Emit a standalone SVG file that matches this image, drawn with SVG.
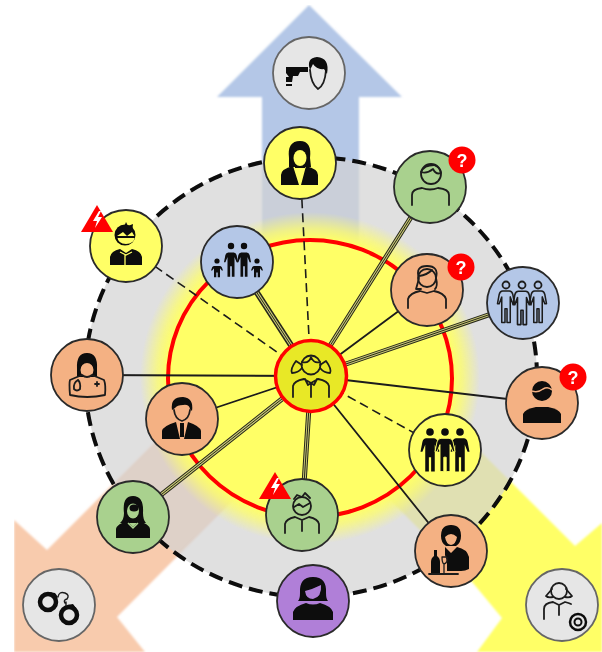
<svg xmlns="http://www.w3.org/2000/svg" xmlns:xlink="http://www.w3.org/1999/xlink" width="602" height="652" viewBox="0 0 602 652">
<style>
.n{stroke:#2a2a2a;stroke-width:1.8}
.y{fill:#ffff66}.o{fill:#f4b183}.g{fill:#a9d18e}.b{fill:#b4c7e7}.p{fill:#b07fd8}.e{fill:#e6e6e6;stroke:#666}
.k{fill:#0a0a0a;stroke:none}
.l{fill:none;stroke:#1c1c1c;stroke-width:1.8;stroke-linecap:round;stroke-linejoin:round}
.s{stroke:#1c1c1c;stroke-width:1.8;fill:none}
.d{stroke:#1c1c1c;stroke-width:1.6;fill:none;stroke-dasharray:9 5}
.t1{stroke:#26261a;stroke-width:5;fill:none}
.t2{stroke:#c9c976;stroke-width:3;fill:none}
.t3{stroke:#26261a;stroke-width:1;fill:none}
.q{font-family:"Liberation Sans",Arial,sans-serif;font-weight:bold;font-size:18px;fill:#fff;text-anchor:middle}
</style>
<defs>
<radialGradient id="glow"><stop offset="0.84" stop-color="#ffff66"/><stop offset="0.9" stop-color="#ffff66" stop-opacity="0.7"/><stop offset="1" stop-color="#ffff66" stop-opacity="0"/></radialGradient>
<filter id="soft" x="0" y="0" width="1" height="1"><feGaussianBlur stdDeviation="0.45"/></filter>
<filter id="arrowsoft" x="-5%" y="-5%" width="110%" height="110%"><feGaussianBlur stdDeviation="1"/></filter>
<path id="fig" d="M-4,-13H4Q7,-13 8,-9L10,2H8L5,-6V24H1.200V8H-1.200V24H-5V-6L-8,2H-10L-8,-9Q-7,-13 -4,-13Z"/>
<g id="badge"><circle r="13.500" fill="#ff0000"/><text class="q" y="6.500">?</text></g>
<g id="warn"><polygon points="0,-14 16,13 -16,13" fill="#ff0000"/><polygon points="2,-8 -4,2 0,2 -2,9 5,-2 1,-2 4,-8" fill="#fff"/></g>
</defs>
<g filter="url(#soft)">
<g id="arrows" filter="url(#arrowsoft)">
<polygon fill="#b4c7e7" points="309,5 402,97 359,97 359,300 262,300 262,97 217,97"/>
<polygon fill="#f8cbad" points="14,520 47,550 230,367 300,433 117,617 145,652 14,652"/>
<polygon fill="#ffff66" points="602,523 575,546 400,371 340,450 473,583 502,618 477,652 602,652"/>
</g>
<ellipse cx="311" cy="377" rx="226" ry="220" fill="#d3d3d3" fill-opacity="0.7"/>
<ellipse cx="310" cy="378" rx="170" ry="166" fill="url(#glow)"/>
<ellipse cx="311" cy="377" rx="226" ry="220" fill="none" stroke="#0a0a0a" stroke-width="4" stroke-dasharray="14 7"/>
<ellipse cx="310" cy="378.500" rx="142" ry="138.500" fill="#ffff66" stroke="#ff0000" stroke-width="4"/>
<g id="connectors">
<path class="d" d="M311,376L300,163"/>
<path class="d" d="M311,376L126,246"/>
<path class="d" d="M311,376L445,450"/>
<path class="s" d="M311,376L427,290M311,376L542,403M311,376L451,551M311,376L182,419M311,376L87,375"/>
<path class="t1" d="M311,376L430,187M311,376L523,303M311,376L302,515M311,376L133,517"/>
<path class="t2" d="M311,376L430,187M311,376L523,303M311,376L302,515M311,376L133,517"/>
<path class="t3" d="M311,376L430,187M311,376L523,303M311,376L302,515M311,376L133,517"/>
<path class="t1" style="stroke-width:6" d="M311,376L237,262"/>
<path class="t2" d="M311,376L237,262"/>
<path class="t3" d="M311,376L237,262"/>
</g>
<g id="n-gun" transform="translate(309,73)"><circle class="n e" r="36"/>
<path class="k" d="M-23,-6H-1V-1H-9L-11,3H-16L-17,9H-23V4H-20L-23,0ZM-23,11H-17V13H-23Z"/>
<path class="l" d="M1,-3Q2,11 9,16Q16,12 17,-3"/>
<path class="k" d="M1,-3Q-3,-15 8,-16Q21,-15 18,1L15,-4Q8,-3 4,-9Z"/></g>
<g id="n-handcuffs" transform="translate(59,605)"><circle class="n e" r="36"/>
<circle cx="-11" cy="-3" r="8" fill="none" stroke="#0a0a0a" stroke-width="4.500"/><circle cx="10" cy="10" r="8" fill="none" stroke="#0a0a0a" stroke-width="4.500"/>
<path class="k" d="M-10,-13L-4,-12L-1,-8L-4,-6ZM8,0L14,-1L17,3L12,4Z"/>
<path class="l" d="M-1,-8Q0,-14 6,-12Q11,-10 8,-6Q4,-5 6,-2M7,-3V1" style="stroke-width:1.400"/></g>
<g id="n-target" transform="translate(562,605)"><circle class="n e" r="36"/>
<circle cx="-3" cy="-14" r="8" class="l"/><path class="l" d="M-10,-16L-16,-9Q-14,-7 -9,-8M4,-16L10,-9Q8,-7 3,-8M-18,14V4Q-18,-2 -9,-3L-3,0L3,-3Q7,-2 9,-1M-3,0V10"/>
<circle cx="16" cy="17" r="8" fill="none" stroke="#111" stroke-width="2.500"/><circle cx="16" cy="17" r="3.500" fill="none" stroke="#111" stroke-width="2"/></g>
<g id="n-top" transform="translate(300,163)"><circle class="n y" r="36"/>
<path class="k" d="M-11,-5Q-13,-22 0,-22Q12,-22 10,-5L11,4H-11Z"/><ellipse cx="0" cy="-5" rx="6.500" ry="8" fill="#ffff66"/>
<path class="k" d="M-19,22V12Q-19,6 -7,3L-1,22ZM18,22V12Q18,6 6,3L1,22Z"/><rect x="-5" y="3" width="10" height="2" fill="#0a0a0a"/></g>
<g id="n-green-man" transform="translate(430,187)"><circle class="n g" r="36"/>
<circle cx="1" cy="-13" r="10" class="l"/><path class="l" d="M-9,-15Q-6,-22 4,-22Q10,-20 11,-14Q6,-12 3,-18Q-3,-13 -9,-15M-18,18V8Q-18,2 -8,1Q0,4 8,1Q19,2 19,8V18"/></g>
<g id="b1" transform="translate(462,160)"><use xlink:href="#badge"/></g>
<g id="n-boy" transform="translate(126,246)"><circle class="n y" r="36"/>
<circle cx="-1" cy="-11" r="10.500" class="k"/><path d="M-9,-10L-3,-14L1,-10L6,-14L9,-9Q8,-2 0,-2Q-8,-2 -9,-10Z" fill="#ffff66"/><path d="M-9,-9H9" stroke="#0a0a0a" stroke-width="2"/>
<path class="k" d="M-6,-20L-2,-19L0,-24L2,-20L7,-22L6,-14H-6ZM-16,19V11Q-15,5 -6,3L0,7L6,3Q15,5 16,11V19Z"/><path d="M-1,8V19M-6,6L0,9L6,6" stroke="#ffff66" stroke-width="1.300" fill="none"/></g>
<g id="w1" transform="translate(97,219)"><use xlink:href="#warn"/></g>
<g id="n-family" transform="translate(237,262)"><circle class="n b" r="36"/>
<g class="k"><circle cx="-6" cy="-16" r="3.200"/><circle cx="7" cy="-16" r="3.200"/><circle cx="-20" cy="-1" r="2.600"/><circle cx="20" cy="-1" r="2.600"/></g>
<use xlink:href="#fig" class="k" transform="translate(-6,-1) scale(.7,.66)"/><use xlink:href="#fig" class="k" transform="translate(7,-1) scale(.7,.66)"/>
<use xlink:href="#fig" class="k" transform="translate(-20,8) scale(.6,.3)"/><use xlink:href="#fig" class="k" transform="translate(20,8) scale(.6,.3)"/></g>
<g id="n-doctor" transform="translate(87,375)"><circle class="n o" r="36"/>
<path class="k" d="M-10,-6Q-11,-22 0,-22Q11,-22 10,-6L10,2H-10Z"/><ellipse cx="0" cy="-5" rx="6.500" ry="7" fill="#f4b183"/>
<path class="l" d="M-17,20Q-18,8 -17,5Q-10,2 -5,0Q0,4 5,0Q10,2 17,5Q19,10 18,20Q0,24 -17,20Z"/><path class="l" d="M-9,5Q-14,8 -13,14Q-10,17 -7,14Q-6,8 -9,5M8,9H12M10,7V11"/></g>
<g id="n-suit" transform="translate(182,419)"><circle class="n o" r="36"/>
<path class="k" d="M-10,-9Q-12,-22 1,-22Q12,-21 10,-8L8,-10Q7,-15 1,-14Q-5,-14 -7,-11Z"/><path class="l" d="M-8,-9Q-7,0 0,2Q7,0 8,-9"/>
<path class="k" d="M-20,20V12Q-19,7 -6,3L-2,20ZM19,20V12Q18,7 6,3L2,20Z"/><path class="k" d="M-2,4H2V18H-2Z"/></g>
<g id="n-green-woman" transform="translate(133,517)"><circle class="n g" r="36"/>
<path class="k" d="M-9,-4Q-11,-21 0,-21Q11,-21 10,-4Q10,3 13,6H-13Q-9,3 -9,-4Z"/><ellipse cx="0" cy="-6" rx="6" ry="7.500" fill="#a9d18e"/><ellipse cx="1" cy="-9" rx="4.500" ry="3.500" fill="#0a0a0a"/>
<path class="k" d="M-17,21V12Q-16,7 -6,4L0,10L6,4Q16,7 17,12V21Z"/><path d="M-5,6L0,11L5,6" stroke="#a9d18e" stroke-width="1.500" fill="none"/></g>
<g id="n-green-low" transform="translate(302,515)"><circle class="n g" r="36"/>
<circle cx="0" cy="-9" r="9" class="l"/><path class="l" d="M-8,-8L-3,-11L1,-8L8,-12M-8,-16L-5,-20L0,-18L3,-22L8,-17M-17,18V9Q-16,4 -7,2L0,5L7,2Q16,4 17,9V18M0,5V16"/></g>
<g id="w2" transform="translate(275,486)"><use xlink:href="#warn"/></g>
<g id="n-purple" transform="translate(313,601)"><circle class="n p" r="36"/>
<path class="k" d="M-13,-8Q-14,-24 0,-24Q14,-24 13,-8Q13,-2 15,0H-15Q-13,-2 -13,-8Z"/><path d="M-8,-10Q0,-12 8,-16Q9,-4 0,-2Q-7,-2 -8,-10Z" fill="#b07fd8"/>
<path class="k" d="M-20,19V11Q-18,5 -7,2Q0,5 7,2Q18,5 20,11V19Z"/></g>
<g id="n-bartender" transform="translate(451,551)"><circle class="n o" r="36"/>
<path class="k" d="M-10,-15Q-10,-26 0,-26Q10,-26 10,-15Q10,-8 5,-5H-5Q-10,-8 -10,-15Z"/><path d="M-6,-14Q0,-20 6,-14Q5,-7 0,-6Q-5,-7 -6,-14Z" fill="#f4b183"/>
<path class="k" d="M-6,-4L0,2L6,-4Q16,-2 18,6V18Q14,20 10,20H-4V10L-6,4Z"/><path class="k" d="M-17,-1H-14V5Q-11,7 -11,11V22H-20V11Q-20,7 -17,5Z"/>
<path class="l" style="stroke-width:1.300" d="M-9,6Q-9,12 -7,13Q-3,12 -4,6ZM-7,13V22"/><path class="l" d="M-22,23H7"/></g>
<g id="n-orange-woman" transform="translate(427,290)"><circle class="n o" r="36"/>
<circle cx="0" cy="-12" r="9" class="l"/><path class="l" d="M-8,-12Q-12,-24 0,-24Q12,-24 9,-12Q11,-4 8,-1M-8,-12Q-10,-4 -11,-1H-6M-8,-14Q0,-15 5,-20M-19,18V9Q-17,3 -7,1L0,3L7,1Q17,3 19,9V18"/></g>
<g id="b2" transform="translate(461,267)"><use xlink:href="#badge"/></g>
<g id="n-blue-group" transform="translate(523,303)"><circle class="n b" r="36"/>
<g class="l"><circle cx="-17" cy="-18" r="3.500"/><circle cx="-1" cy="-18" r="3.500"/><circle cx="15" cy="-18" r="3.500"/></g>
<use xlink:href="#fig" class="l" transform="translate(-17,-1) scale(.85)"/><use xlink:href="#fig" class="l" transform="translate(-1,0) scale(.9)"/><use xlink:href="#fig" class="l" transform="translate(15,-1) scale(.85)"/></g>
<g id="n-orange-man" transform="translate(542,403)"><circle class="n o" r="36"/>
<circle cx="0" cy="-12" r="10" class="k"/><path d="M-10,-12Q-4,-10 1,-14Q6,-17 10,-13" stroke="#f4b183" stroke-width="1.500" fill="none"/>
<path class="k" d="M-19,20V11Q-17,6 -6,4H6Q17,6 19,11V20Z"/></g>
<g id="b3" transform="translate(573,377)"><use xlink:href="#badge"/></g>
<g id="n-yellow-group" transform="translate(445,450)"><circle class="n y" r="36"/>
<g class="k"><circle cx="-15" cy="-18" r="3.800"/><circle cx="0" cy="-18" r="3.800"/><circle cx="15" cy="-18" r="3.800"/></g>
<use xlink:href="#fig" class="k" transform="translate(-15,0) scale(.95,.9)"/><use xlink:href="#fig" class="k" transform="translate(15,0) scale(.95,.9)"/><use xlink:href="#fig" class="k" transform="translate(0,0) scale(1,.9)" style="stroke:#ffff66;stroke-width:1"/></g>
<g id="n-center" transform="translate(311,376)"><circle r="35.500" fill="#e8e828" stroke="#ff0000" stroke-width="3.500"/>
<circle cx="0" cy="-11" r="9.500" class="l"/><path class="l" d="M-9,-14Q-2,-12 0,-19Q3,-12 9,-14M-9,-11L-15,-15Q-21,-7 -19,-3Q-13,-3 -9,-8M9,-11L15,-15Q21,-7 19,-3Q13,-3 9,-8M-18,21V10Q-17,5 -7,3L0,7L7,3Q17,5 18,10V21M0,7V21M-6,3L-3,9L0,7L3,9L6,3"/></g>
</g>
</svg>
